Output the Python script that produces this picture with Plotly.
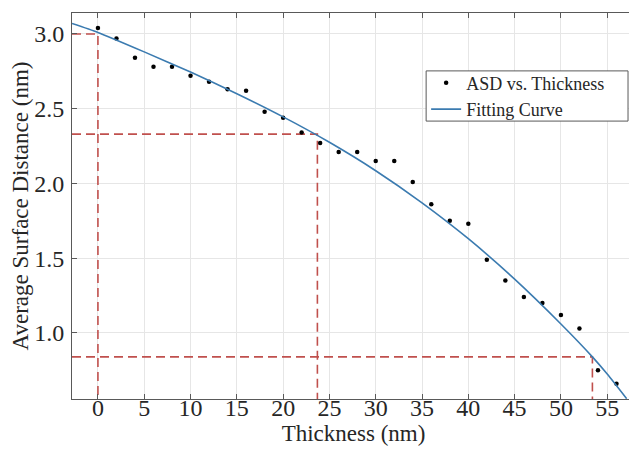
import plotly.graph_objects as go

# Measured data (ASD vs. Thickness)
thickness = [0, 2, 4, 6, 8, 10, 12, 14, 16, 18, 20, 22, 24, 26, 28,
             30, 32, 34, 36, 38, 40, 42, 44, 46, 48, 50, 52, 54, 56]
asd = [3.04, 2.97, 2.84, 2.78, 2.78, 2.72, 2.68, 2.63, 2.62, 2.48, 2.44, 2.34,
       2.27, 2.21, 2.21, 2.15, 2.15, 2.01, 1.86, 1.75, 1.73, 1.49, 1.35, 1.24,
       1.20, 1.12, 1.03, 0.75, 0.66]

# Fitting curve
fit_x = [-2.8, 0, 5, 10, 15, 20, 25, 30, 35, 40, 45, 50, 53.4, 55, 57.1]
fit_y = [3.07, 3.01, 2.88, 2.745, 2.60, 2.445, 2.275, 2.085, 1.87, 1.63, 1.36,
         1.06, 0.84, 0.725, 0.56]

# Reference (red dashed) guides: thickness and ASD pairs
guide_x = [0, 23.7, 53.4]
guide_y = [3.0, 2.33, 0.84]

x_range = [-2.8, 58.0]
y_range = [0.558, 3.14]
x_ticks = [0, 5, 10, 15, 20, 25, 30, 35, 40, 45, 50, 55]
y_ticks = [1.0, 1.5, 2.0, 2.5, 3.0]

font_family = "Liberation Serif, Times New Roman, serif"
red = "#c0504d"

fig = go.Figure()

# dashed guides
for gx, gy in zip(guide_x, guide_y):
    fig.add_trace(go.Scatter(
        x=[x_range[0], gx, gx], y=[gy, gy, y_range[0]],
        mode="lines", line=dict(color=red, width=1.6, dash="9px,5px"),
        showlegend=False, hoverinfo="skip"))

fig.add_trace(go.Scatter(
    x=thickness, y=asd, mode="markers", name="ASD vs. Thickness",
    marker=dict(color="black", size=4.5)))

fig.add_trace(go.Scatter(
    x=fit_x, y=fit_y, mode="lines", name="Fitting Curve",
    line=dict(color="#3b7bb0", width=1.6, shape="spline", smoothing=0.6)))

axis_common = dict(
    showgrid=True, gridcolor="#e6e6e6", gridwidth=1,
    showline=True, linecolor="#595959", linewidth=1,
    mirror="ticks", ticks="inside", ticklen=5, tickcolor="#595959",
    zeroline=False, automargin=False,
    tickfont=dict(family=font_family, size=24, color="#262626"),
)

# legend frame (wider than plotly's own legend box, as in the reference)
fig.add_shape(type="rect", xref="paper", yref="paper",
              x0=0.629, x1=0.9876, y0=0.72, y1=0.85,
              line=dict(color="#595959", width=1), fillcolor="white", layer="above")

# the page body adds an 8px offset; the figure is sized to fit the window
fig.update_layout(
    width=629, height=445,
    margin=dict(l=64, r=2, t=5, b=54),
    paper_bgcolor="white", plot_bgcolor="white",
    font=dict(family=font_family, color="#262626"),
    xaxis=dict(range=x_range, tickvals=x_ticks, ticktext=[str(t) for t in x_ticks],
               ticklabelstandoff=-13,
               title=dict(text="Thickness (nm)", font=dict(size=23), standoff=0),
               **axis_common),
    yaxis=dict(range=y_range, tickvals=y_ticks, ticktext=[f"{t:.1f}" for t in y_ticks],
               ticklabelstandoff=2,
               title=dict(text="Average Surface Distance (nm)", font=dict(size=23), standoff=10),
               **axis_common),
    legend=dict(x=0.629, y=0.785, xanchor="left", yanchor="middle",
                borderwidth=0, bgcolor="rgba(0,0,0,0)",
                font=dict(family=font_family, size=18, color="#262626"),
                tracegroupgap=0, itemwidth=30),
    showlegend=True,
)

fig.write_html("out.html")
